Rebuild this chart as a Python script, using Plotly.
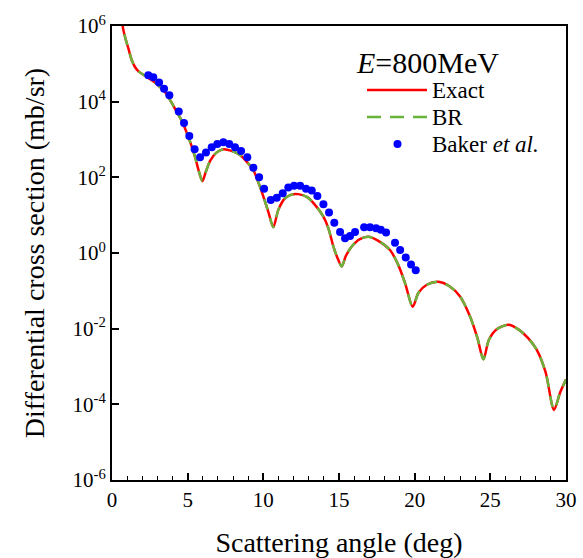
import plotly.graph_objects as go

# Scattering angle (deg) and differential cross section (mb/sr), E = 800 MeV
angle_exact = [0.60, 0.75, 0.90, 1.10, 1.30, 1.50, 1.75, 2.00, 2.30, 2.70,
               3.10, 3.50, 3.90, 4.30, 4.60, 4.90, 5.20, 5.50, 5.75, 5.97,
               6.20, 6.50, 6.90, 7.36, 7.90, 8.46, 8.90, 9.34, 9.89, 10.33,
               10.66, 10.99, 11.43, 11.85, 12.31, 12.90, 13.40, 13.97, 14.30, 14.63,
               14.95, 15.18, 15.45, 15.84, 16.35, 16.94, 17.60, 18.37, 18.90, 19.37,
               19.87, 20.25, 20.80, 21.57, 22.30, 23.00, 23.66, 24.15, 24.54, 24.90,
               25.40, 26.19, 26.90, 27.50, 28.07, 28.65, 29.21, 29.60, 30.00]
xs_exact = [2.0e6, 7.9e5, 4.5e5, 2.4e5, 1.26e5, 8.5e4, 6.3e4, 5.4e4, 4.5e4, 3.5e4,
            2.6e4, 1.8e4, 1.0e4, 5.2e3, 3.2e3, 1.66e3, 7.9e2, 3.3e2, 1.4e2, 79,
            1.4e2, 2.8e2, 4.5e2, 5.5e2, 5.0e2, 3.9e2, 2.6e2, 1.55e2, 42, 12.3,
            4.8, 13.8, 28, 35, 36, 30, 19, 9.1, 4.5, 1.48,
            0.66, 0.44, 0.83, 1.48, 2.3, 2.7, 2.1, 1.2, 0.50, 0.158,
            0.038, 0.089, 0.145, 0.174, 0.132, 0.071, 0.021, 5.6e-3, 1.55e-3, 5.0e-3,
            9.5e-3, 1.26e-2, 9.3e-3, 5.6e-3, 2.75e-3, 7.1e-4, 7.1e-5, 2.0e-4, 4.5e-4]

angle_br = list(angle_exact)
xs_br = list(xs_exact)

angle_baker = [2.40, 2.73, 3.11, 3.44, 3.79, 4.41, 4.76, 5.11, 5.46, 5.82,
               6.21, 6.59, 6.96, 7.36, 7.75, 8.13, 8.53, 8.94, 9.34, 9.72,
               10.05, 10.49, 10.89, 11.28, 11.65, 12.03, 12.43, 12.82, 13.20, 13.57,
               13.97, 14.34, 14.69, 15.07, 15.40, 15.73, 16.06, 16.66, 17.05, 17.45,
               17.76, 18.11, 18.70, 19.04, 19.41, 19.76, 20.07]
xs_baker = [5.0e4, 4.4e4, 3.2e4, 2.2e4, 1.48e4, 5.5e3, 2.75e3, 1.23e3, 5.5e2, 3.4e2,
            4.5e2, 6.2e2, 7.6e2, 8.5e2, 7.6e2, 6.2e2, 5.0e2, 3.4e2, 1.8e2, 1.0e2,
            50, 25, 29, 38, 54, 60, 60, 50, 45, 32,
            19.5, 11.7, 6.3, 3.6, 2.45, 2.8, 3.6, 4.8, 4.8, 4.5,
            4.1, 3.5, 1.86, 1.2, 0.76, 0.50, 0.35]

x_ticks = [0, 5, 10, 15, 20, 25, 30]
y_ticks = [1e-6, 1e-4, 1e-2, 1e0, 1e2, 1e4, 1e6]
y_ticktext = ["10<sup>-6</sup>", "10<sup>-4</sup>", "10<sup>-2</sup>", "10<sup>0</sup>",
              "10<sup>2</sup>", "10<sup>4</sup>", "10<sup>6</sup>"]

legend_title = "<i>E</i>=800MeV"
legend_names = ["Exact", "BR", "Baker <i>et al.</i>"]

SERIF = "Liberation Serif, Times New Roman, serif"
RED = "#ff0000"
GREEN = "#6ab43e"
BLUE = "#0000ff"

# plot area in pixels
L, R, T, B = 112, 17, 26, 78
W, H = 583, 558
PW, PH = W - L - R, H - T - B


def px(xp):
    return (xp - L) / PW


def py(yp):
    return (H - B - yp) / PH


fig = go.Figure()
fig.add_trace(go.Scatter(x=angle_exact, y=xs_exact, mode="lines", name=legend_names[0],
                         line=dict(color=RED, width=2.5, shape="spline", smoothing=0.8)))
fig.add_trace(go.Scatter(x=angle_br, y=xs_br, mode="lines", name=legend_names[1],
                         line=dict(color=GREEN, width=2.5, dash="11px,9px",
                                   shape="spline", smoothing=0.8)))
fig.add_trace(go.Scatter(x=angle_baker, y=xs_baker, mode="markers", name=legend_names[2],
                         marker=dict(color=BLUE, size=8)))

# hand-placed legend block
annotations = [
    dict(text=legend_title, x=px(354), y=py(63), xref="paper", yref="paper",
         xanchor="left", yanchor="middle", showarrow=False,
         font=dict(family=SERIF, size=30, color="black")),
]
rows_y = [90, 117, 144]
for name, yy in zip(legend_names, rows_y):
    annotations.append(dict(text=name, x=px(430), y=py(yy), xref="paper", yref="paper",
                            xanchor="left", yanchor="middle", showarrow=False,
                            font=dict(family=SERIF, size=23, color="black")))
shapes = [
    dict(type="line", xref="paper", yref="paper", x0=px(367), x1=px(427),
         y0=py(rows_y[0]), y1=py(rows_y[0]), line=dict(color=RED, width=2.5)),
    dict(type="line", xref="paper", yref="paper", x0=px(367), x1=px(427),
         y0=py(rows_y[1]), y1=py(rows_y[1]), line=dict(color=GREEN, width=2.5, dash="14px,9px")),
    dict(type="circle", xref="paper", yref="paper", x0=px(393.5), x1=px(401.5),
         y0=py(rows_y[2] + 4), y1=py(rows_y[2] - 4),
         fillcolor=BLUE, line=dict(width=0)),
]

fig.update_layout(
    width=W, height=H,
    margin=dict(l=L, r=R, t=T, b=B),
    paper_bgcolor="white", plot_bgcolor="white",
    font=dict(family=SERIF, color="black"),
    showlegend=False,
    annotations=annotations,
    shapes=shapes,
)

fig.update_xaxes(
    range=[0, 30], tickvals=x_ticks, ticks="inside", ticklen=7, tickwidth=1.5,
    tickcolor="black", automargin=False,
    minor=dict(dtick=1, ticks="inside", ticklen=4, tickwidth=1.2, tickcolor="black"),
    showline=True, linewidth=2, linecolor="black", mirror=True,
    showgrid=False, zeroline=False,
    tickfont=dict(family=SERIF, size=21, color="black"),
    title=dict(text="Scattering angle (deg)", font=dict(family=SERIF, size=28), standoff=22),
)
fig.update_yaxes(
    type="log", range=[-6, 6], tickvals=y_ticks, ticktext=y_ticktext,
    ticks="inside", ticklen=7, tickwidth=1.5, tickcolor="black", automargin=False,
    showline=True, linewidth=2, linecolor="black", mirror=True,
    showgrid=False, zeroline=False,
    tickfont=dict(family=SERIF, size=21, color="black"),
    title=dict(text="Differential cross section (mb/sr)", font=dict(family=SERIF, size=28),
               standoff=20),
)

fig.write_html("out.html")
